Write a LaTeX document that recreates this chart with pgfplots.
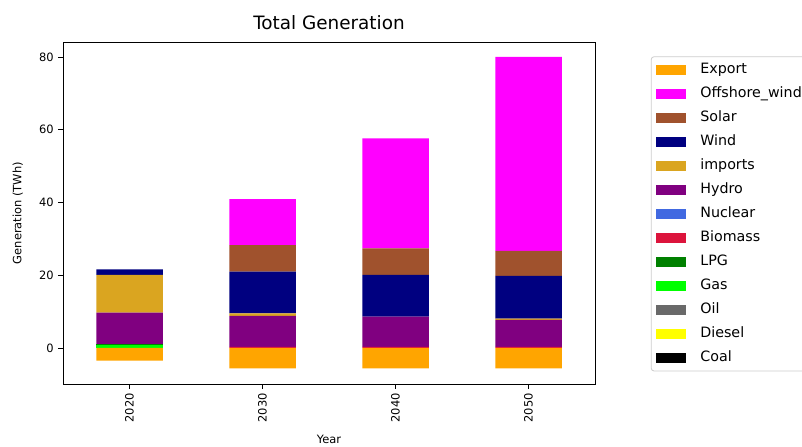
\documentclass[border=0pt]{standalone}
\usepackage{pgfplots}
\usepackage{pgfplotstable}
\pgfplotsset{compat=1.18}
\usepackage{fontspec}
\setmainfont{DejaVu Sans}

\definecolor{cExport}{RGB}{255,165,0}
\definecolor{cOffshore}{RGB}{255,0,255}
\definecolor{cSolar}{RGB}{160,82,45}
\definecolor{cWind}{RGB}{0,0,128}
\definecolor{cImports}{RGB}{218,165,32}
\definecolor{cHydro}{RGB}{128,0,128}
\definecolor{cNuclear}{RGB}{65,105,225}
\definecolor{cBiomass}{RGB}{220,20,60}
\definecolor{cLPG}{RGB}{0,128,0}
\definecolor{cGas}{RGB}{0,255,0}
\definecolor{cOil}{RGB}{105,105,105}
\definecolor{cDiesel}{RGB}{255,255,0}
\definecolor{cCoal}{RGB}{0,0,0}
\definecolor{legframe}{RGB}{204,204,204}

% generation by source (TWh); x = 0..3 for 2020..2050
\pgfplotstableread{
x Coal Diesel Oil Gas LPG Biomass Nuclear Hydro imports Wind Solar Offshore Export
0 0 0 0 0.7 0.4 0.0 0 8.6 10.4 1.5 0.0 0.0 -3.5
1 0 0 0 0.0 0.0 0.3 0 8.5 0.7 11.5 7.3 12.6 -5.6
2 0 0 0 0.0 0.0 0.3 0 8.3 0.0 11.5 7.3 30.2 -5.6
3 0 0 0 0.0 0.0 0.3 0 7.4 0.4 11.7 6.9 53.3 -5.6
}\gen

\pgfplotsset{
  frame/.style={
    at={(47.25pt,46.5pt)}, anchor=south west,
    width=399pt, height=256.5pt, scale only axis,
    xmin=-0.5, xmax=3.5, ymin=-9.9, ymax=84.1,
    bar width=0.5,
  },
}

\begin{document}
\begin{tikzpicture}
\begin{axis}[
  frame,
  ybar stacked,
  xtick={0,1,2,3}, xticklabels={2020,2030,2040,2050},
  ytick={0,20,40,60,80},
  tick pos=left, tick align=outside,
  major tick length=3.5pt,
  tick style={black, line width=0.6pt},
  axis line style={line width=0.6pt},
  ticklabel style={font=\fontsize{8.6}{10}\selectfont},
  /pgf/number format/assume math mode=true,
  xticklabel style={rotate=90, anchor=east},
  xlabel={Year}, ylabel={Generation (TWh)},
  label style={font=\fontsize{8.6}{10}\selectfont},
  xlabel style={at={(axis description cs:0.5,-0.162)}, anchor=center},
  ylabel style={at={(axis description cs:-0.085,0.5)}, anchor=center},
  title={Total Generation},
  title style={font=\fontsize{13.8}{15}\selectfont, at={(axis description cs:0.5,1)}, anchor=south, yshift=0pt},
  every axis plot/.append style={draw=none},
  every axis plot post/.append style={
    legend image code/.code={\fill[##1, sharp corners] (0pt,-3.6pt) rectangle (22.5pt,3.6pt);}},
  reverse legend,
  legend cell align=left,
  legend style={
    at={(1.105,0.958)}, anchor=north west,
    draw=legframe, line width=0.6pt, rounded corners=2pt,
    font=\fontsize{10.7}{11}\selectfont,
    nodes={inner sep=0pt, text height=7.4pt, text depth=2.2pt},
    row sep=8.4pt, column sep=0pt,
    inner xsep=3.8pt, inner ysep=5pt,
    /tikz/every odd column/.append style={column sep=10.5pt},
  },
]
\addplot[fill=cCoal]     table[x=x, y=Coal]     {\gen}; \addlegendentry{Coal}
\addplot[fill=cDiesel]   table[x=x, y=Diesel]   {\gen}; \addlegendentry{Diesel}
\addplot[fill=cOil]      table[x=x, y=Oil]      {\gen}; \addlegendentry{Oil}
\addplot[fill=cGas]      table[x=x, y=Gas]      {\gen}; \addlegendentry{Gas}
\addplot[fill=cLPG]      table[x=x, y=LPG]      {\gen}; \addlegendentry{LPG}
\addplot[fill=cBiomass]  table[x=x, y=Biomass]  {\gen}; \addlegendentry{Biomass}
\addplot[fill=cNuclear]  table[x=x, y=Nuclear]  {\gen}; \addlegendentry{Nuclear}
\addplot[fill=cHydro]    table[x=x, y=Hydro]    {\gen}; \addlegendentry{Hydro}
\addplot[fill=cImports]  table[x=x, y=imports]  {\gen}; \addlegendentry{imports}
\addplot[fill=cWind]     table[x=x, y=Wind]     {\gen}; \addlegendentry{Wind}
\addplot[fill=cSolar]    table[x=x, y=Solar]    {\gen}; \addlegendentry{Solar}
\addplot[fill=cOffshore] table[x=x, y=Offshore] {\gen}; \addlegendentry{Offshore\_wind}
\addlegendimage{fill=cExport, draw=none}
\addlegendentry{Export}
\end{axis}

% exports are negative, so they hang below zero on their own
\begin{axis}[frame, ybar, bar shift=0pt, hide axis]
\addplot[fill=cExport, draw=none] table[x=x, y=Export] {\gen};
\end{axis}

\pgfresetboundingbox
\path (0pt,0pt) rectangle (601.5pt,334.5pt);
\end{tikzpicture}
\end{document}
